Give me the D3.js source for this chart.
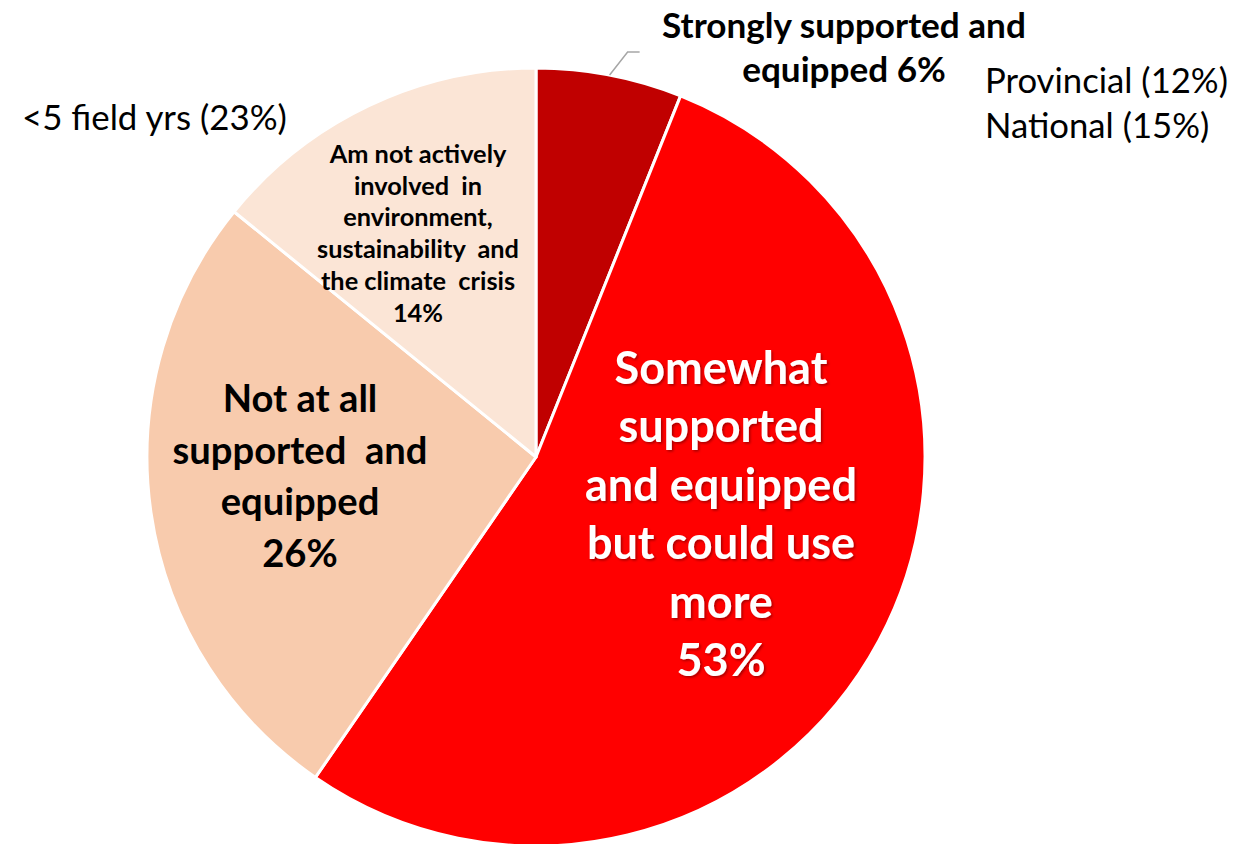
<!DOCTYPE html>
<html><head><meta charset="utf-8">
<script src="https://cdn.jsdelivr.net/npm/d3@7"></script>
<style>body{margin:0;background:#fff;} svg{display:block;font-family:Lato,"Open Sans",sans-serif;}</style>
</head><body>
<svg id="c" width="1256" height="844"></svg>
<script>
const categories = ["Strongly supported and equipped","Somewhat supported and equipped but could use more","Not at all supported and equipped","Am not actively involved in environment, sustainability and the climate crisis"];
const values = [6, 53, 26, 14];
const colors = ["#C00000", "#FF0000", "#F8CBAD", "#FBE5D6"];
const labelLines = [
  ["Strongly supported and", "equipped 6%"],
  ["Somewhat", "supported", "and equipped", "but could use", "more", "53%"],
  ["Not at all", "supported  and", "equipped", "26%"],
  ["Am not actively", "involved  in", "environment,", "sustainability  and", "the climate  crisis", "14%"]
];
const noteLeft = ["<5 field yrs (23%)"];
const noteRight = ["Provincial (12%)", "National (15%)"];

const svg = d3.select("#c");
const cx = 536, cy = 457, R = 389;
const g = svg.append("g").attr("transform", `translate(${cx},${cy})`);
const pie = d3.pie().sort(null).value(d => d)(values);
const arc = d3.arc().innerRadius(0).outerRadius(R);
g.selectAll("path").data(pie).join("path")
  .attr("d", arc).attr("fill", (d, i) => colors[i])
  .attr("stroke", "#fff").attr("stroke-width", 3).attr("stroke-linejoin", "round");

const defs = svg.append("defs");
const f = defs.append("filter").attr("id", "sh").attr("x", "-10%").attr("y", "-10%").attr("width", "120%").attr("height", "130%");
f.append("feDropShadow").attr("dx", 1.5).attr("dy", 1.5).attr("stdDeviation", 1.2).attr("flood-color", "#000").attr("flood-opacity", 0.35);

// text block helper: fit widest line to target width
function block(lines, x, y0, lh, targetW, weight, fill, anchor, filter) {
  const t = svg.append("text").attr("text-anchor", anchor || "middle")
    .attr("font-weight", weight).attr("fill", fill).attr("font-size", 20);
  if (filter) t.attr("filter", filter);
  lines.forEach((s, i) => t.append("tspan").attr("x", x).attr("y", y0 + i * lh).attr("xml:space","preserve").text(s));
  let w = 0;
  t.selectAll("tspan").each(function(){ w = Math.max(w, this.getComputedTextLength()); });
  t.attr("font-size", 20 * targetW / w);
  return t;
}

// Strongly label with leader line
const a0 = pie[0];
const mid = (a0.startAngle + a0.endAngle) / 2;
const p0 = [cx + R * Math.sin(mid), cy - R * Math.cos(mid)];
svg.append("polyline")
  .attr("points", [p0, [p0[0] + 18, p0[1] - 23], [p0[0] + 30, p0[1] - 23]].map(p => p.join(",")).join(" "))
  .attr("fill", "none").attr("stroke", "#A6A6A6").attr("stroke-width", 1.5);
block(labelLines[0], 844, 38, 44, 364, 700, "#000");
block(labelLines[1], 721, 384, 58.4, 272, 700, "#fff", "middle", "url(#sh)");
block(labelLines[2], 300, 412, 51.5, 255, 700, "#000");
block(labelLines[3], 418, 163, 31.7, 202, 700, "#000");
block(noteLeft, 22, 130, 45, 265, 400, "#000", "start");
block(noteRight, 985, 93, 45, 243, 400, "#000", "start");
</script>
</body></html>
